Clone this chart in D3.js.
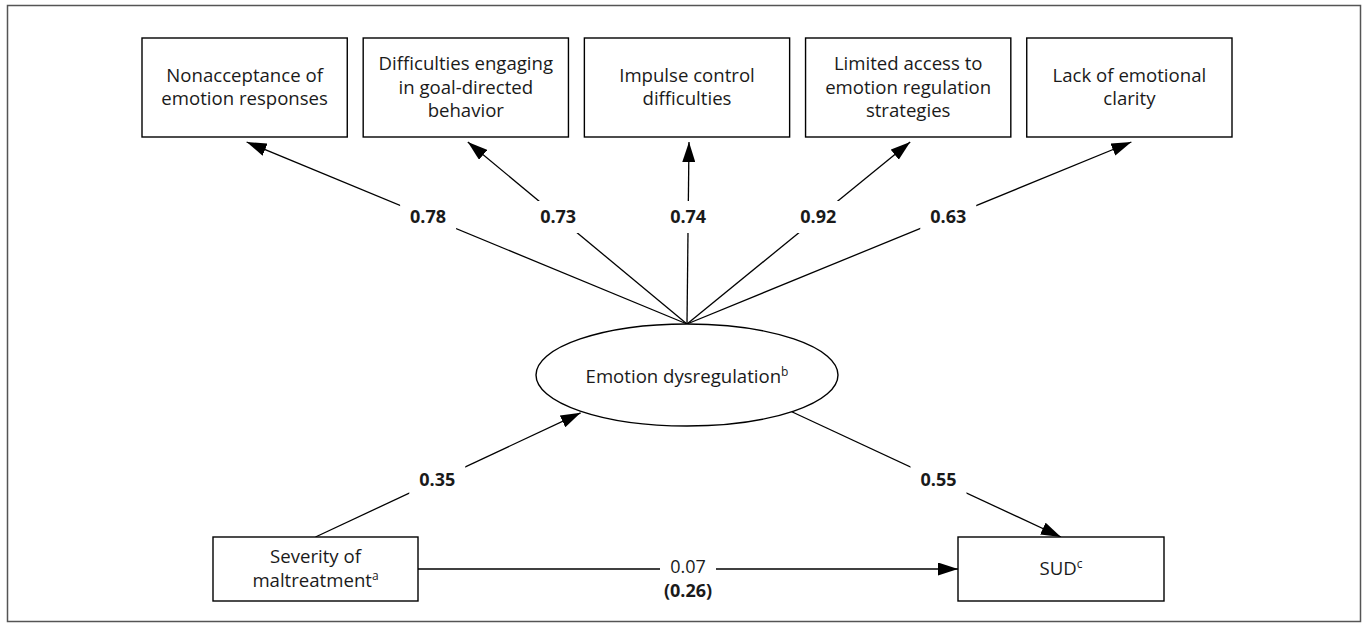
<!DOCTYPE html>
<html>
<head>
<meta charset="utf-8">
<script src="https://cdn.jsdelivr.net/npm/d3@7"></script>
<style>
  body { margin: 0; background: #fff; }
  text { font-family: "Open Sans", "Noto Sans", sans-serif; fill: #1a1a1a; }
</style>
</head>
<body>
<div id="diagram"></div>
<script>
// top row: observed indicators of the latent factor (one array entry per text line)
const indicators = [
  ["Nonacceptance of", "emotion responses"],
  ["Difficulties engaging", "in goal-directed", "behavior"],
  ["Impulse control", "difficulties"],
  ["Limited access to", "emotion regulation", "strategies"],
  ["Lack of emotional", "clarity"]
];
const loadings = [0.78, 0.73, 0.74, 0.92, 0.63];

const latentLabel = ["Emotion dysregulation", "b"];
const predictorLines = ["Severity of", "maltreatment"];
const predictorSup = "a";
const outcomeLines = ["SUD"];
const outcomeSup = "c";

const pathA = 0.35;      // maltreatment -> dysregulation
const pathB = 0.55;      // dysregulation -> SUD
const directPath = 0.07; // direct effect
const totalPath = 0.26;  // total effect (bold, in brackets)

const width = 1371, height = 634;
const fmt = d3.format(".2f");

const svg = d3.select("#diagram").append("svg")
  .attr("width", width)
  .attr("height", height);

svg.append("defs").append("marker")
  .attr("id", "arrow")
  .attr("viewBox", "0 0 20 13")
  .attr("refX", 20)
  .attr("refY", 6.5)
  .attr("markerUnits", "userSpaceOnUse")
  .attr("markerWidth", 20)
  .attr("markerHeight", 13)
  .attr("orient", "auto")
  .append("path")
  .attr("d", "M0,0 L20,6.5 L0,13 Z")
  .attr("fill", "#000");

// outer frame
svg.append("rect")
  .attr("x", 7.5).attr("y", 5.5)
  .attr("width", 1353).attr("height", 616)
  .attr("fill", "none")
  .attr("stroke", "#555")
  .attr("stroke-width", 1.5);

const lineLayer = svg.append("g");
const labelLayer = svg.append("g");
const nodeLayer = svg.append("g");

// geometry
const boxTop = 38, boxH = 99;
const xBand = d3.scaleBand()
  .domain(d3.range(indicators.length))
  .range([142, 1232])
  .paddingInner(0.072)
  .paddingOuter(0);

const ell = { cx: 687, cy: 375, rx: 151, ry: 51 };
const bottomY = 537, bottomH = 64;
const predictorBox = { x: 213, w: 205 };
const outcomeBox = { x: 958, w: 206 };

const lineH = 23.5;
const fontSize = 18.6;
const labelSize = 18;

function drawBox(x, y, w, h, lines, sup) {
  nodeLayer.append("rect")
    .attr("x", x).attr("y", y)
    .attr("width", w).attr("height", h)
    .attr("fill", "#fff")
    .attr("stroke", "#000")
    .attr("stroke-width", 1.4);
  const cy = y + h / 2;
  const first = cy - (lines.length - 1) * lineH / 2 + 6;
  lines.forEach((ln, i) => {
    const t = nodeLayer.append("text")
      .attr("x", x + w / 2)
      .attr("y", first + i * lineH)
      .attr("text-anchor", "middle")
      .style("font-size", fontSize + "px")
      .text(ln);
    if (sup && i === lines.length - 1) {
      t.append("tspan")
        .attr("dy", -7)
        .style("font-size", "12px")
        .text(sup);
    }
  });
}

function addLabel(x, y, text) {
  // white patch that cuts the path under the coefficient
  labelLayer.append("rect")
    .attr("x", x - 28).attr("y", y - 16)
    .attr("width", 56).attr("height", 32)
    .attr("fill", "#fff");
  labelLayer.append("text")
    .attr("x", x)
    .attr("y", y + 6)
    .attr("text-anchor", "middle")
    .style("font-size", labelSize + "px")
    .style("font-weight", 700)
    .text(text);
}

function drawLine(a, b, arrow) {
  lineLayer.append("line")
    .attr("x1", a[0]).attr("y1", a[1])
    .attr("x2", b[0]).attr("y2", b[1])
    .attr("stroke", "#000")
    .attr("stroke-width", 1.3)
    .attr("marker-end", arrow ? "url(#arrow)" : null);
}

// point where segment s->t crosses the ellipse outline
function ellipseHit(s, t) {
  const f = u => {
    const x = s[0] + (t[0] - s[0]) * u, y = s[1] + (t[1] - s[1]) * u;
    return ((x - ell.cx) / ell.rx) ** 2 + ((y - ell.cy) / ell.ry) ** 2 - 1;
  };
  let lo = 0, hi = 1;
  const sign = Math.sign(f(0));
  for (let k = 0; k < 50; k++) {
    const mid = (lo + hi) / 2;
    if (Math.sign(f(mid)) === sign) lo = mid; else hi = mid;
  }
  const u = (lo + hi) / 2;
  return [s[0] + (t[0] - s[0]) * u, s[1] + (t[1] - s[1]) * u];
}

// loadings: latent -> indicators
const apex = [ell.cx, ell.cy - ell.ry];
const loadLabelY = 217;
indicators.forEach((lines, i) => {
  const tip = [xBand(i) + xBand.bandwidth() / 2 + 2, boxTop + boxH + 5];
  drawLine(apex, tip, true);
  const u = (apex[1] - loadLabelY) / (apex[1] - tip[1]);
  addLabel(apex[0] + (tip[0] - apex[0]) * u, loadLabelY, fmt(loadings[i]));
  drawBox(xBand(i), boxTop, xBand.bandwidth(), boxH, lines, null);
});

// structural paths
const aim = [ell.cx, ell.cy - 12];
const predTop = [predictorBox.x + predictorBox.w / 2, bottomY];
const outTop = [outcomeBox.x + outcomeBox.w / 2, bottomY];
const bottomLabelY = 480;

const aEnd = ellipseHit(predTop, aim);
const aTip = [aEnd[0] - 2, aEnd[1] + 1];
drawLine(predTop, aTip, true);
{
  const u = (predTop[1] - bottomLabelY) / (predTop[1] - aTip[1]);
  addLabel(predTop[0] + (aTip[0] - predTop[0]) * u, bottomLabelY, fmt(pathA));
}

const bStart = ellipseHit(outTop, aim);
drawLine(bStart, outTop, true);
{
  const u = (bottomLabelY - bStart[1]) / (outTop[1] - bStart[1]);
  addLabel(bStart[0] + (outTop[0] - bStart[0]) * u, bottomLabelY, fmt(pathB));
}

const midY = bottomY + bottomH / 2;
drawLine([predictorBox.x + predictorBox.w, midY], [outcomeBox.x, midY], true);
{
  const mx = (predictorBox.x + predictorBox.w + outcomeBox.x) / 2;
  labelLayer.append("rect")
    .attr("x", mx - 28).attr("y", midY - 10)
    .attr("width", 56).attr("height", 20)
    .attr("fill", "#fff");
  labelLayer.append("text")
    .attr("x", mx).attr("y", midY + 4)
    .attr("text-anchor", "middle")
    .style("font-size", labelSize + "px")
    .text(fmt(directPath));
  labelLayer.append("text")
    .attr("x", mx).attr("y", midY + 28)
    .attr("text-anchor", "middle")
    .style("font-size", labelSize + "px")
    .style("font-weight", 700)
    .text("(" + fmt(totalPath) + ")");
}

// latent ellipse
nodeLayer.append("ellipse")
  .attr("cx", ell.cx).attr("cy", ell.cy)
  .attr("rx", ell.rx).attr("ry", ell.ry)
  .attr("fill", "#fff")
  .attr("stroke", "#000")
  .attr("stroke-width", 1.4);
const lt = nodeLayer.append("text")
  .attr("x", ell.cx).attr("y", ell.cy + 8)
  .attr("text-anchor", "middle")
  .style("font-size", fontSize + "px")
  .text(latentLabel[0]);
lt.append("tspan").attr("dy", -7).style("font-size", "12px").text(latentLabel[1]);

drawBox(predictorBox.x, bottomY, predictorBox.w, bottomH, predictorLines, predictorSup);
drawBox(outcomeBox.x, bottomY, outcomeBox.w, bottomH, outcomeLines, outcomeSup);
</script>
</body>
</html>
